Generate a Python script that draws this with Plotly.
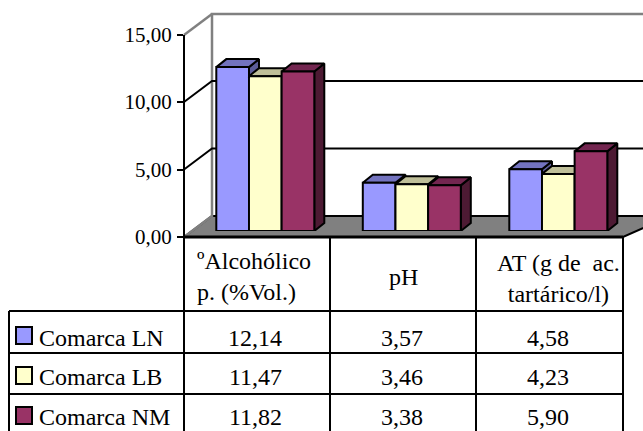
import plotly.graph_objects as go

categories = ["ºAlcohólico<br>p. (%Vol.)", "pH", "AT (g de  ac.<br>tartárico/l)"]
series_names = ["Comarca LN", "Comarca LB", "Comarca NM"]
comarca_ln = [12.14, 3.57, 4.58]
comarca_lb = [11.47, 3.46, 4.23]
comarca_nm = [11.82, 3.38, 5.90]
value_labels = [["12,14", "3,57", "4,58"], ["11,47", "3,46", "4,23"], ["11,82", "3,38", "5,90"]]
tick_vals = [0, 5, 10, 15]
tick_text = ["0,00", "5,00", "10,00", "15,00"]

W, H = 643, 431
FRONT = ["#9999FF", "#FFFFCC", "#993366"]
TOP = ["#7373BF", "#BFBF99", "#732650"]
SIDE = ["#5C5C99", "#99997A", "#4D1A33"]
FONT = "Liberation Serif"
FS = 24
TICK_FS = 21
LW = 2
series = [comarca_ln, comarca_lb, comarca_nm]

PPU = 13.5        # px per value unit
CAT = 146.5       # px per category
X0 = 265.3        # px centre of first category
cx = lambda px: (px - X0) / CAT
wy = lambda px: (237 - px) / PPU   # walls axis value for a px row
xr = [cx(0), cx(W)]
BW = 98 / 3 / CAT
DX = 10 / CAT
DY = 8 / PPU

fig = go.Figure()


def poly(xs, ys, fill, yaxis, line="black", lw=LW):
    fig.add_trace(go.Scatter(x=xs, y=ys, yaxis=yaxis, mode="lines", fill="toself" if fill else None,
                             fillcolor=fill, line=dict(color=line, width=lw),
                             showlegend=False, hoverinfo="skip"))


# floor and walls
poly([cx(184), cx(212), cx(670), cx(623), cx(184)], [wy(237), wy(216), wy(216), wy(237), wy(237)], "#808080", "y")
poly([cx(184), cx(212), cx(212), cx(660)], [wy(237), wy(216), wy(14), wy(14)], None, "y", "#808080", 2.5)
poly([cx(184), cx(212)], [wy(35), wy(14)], None, "y", "#808080", 2.5)
for v in (5, 10):
    poly([cx(184), cx(212), cx(660)], [v, wy(216 - PPU * v), wy(216 - PPU * v)], None, "y")

# tick axis carrier
fig.add_trace(go.Scatter(x=[0], y=[0], yaxis="y2", mode="none", showlegend=False, hoverinfo="skip"))

# depth faces
for g in range(3):
    for s, vals in enumerate(series):
        v = vals[g]
        l = g + (s - 1.5) * BW
        r = l + BW
        poly([r, r + DX, r + DX, r, r], [0, DY, v + DY, v, 0], SIDE[s], "y3")
        poly([l, l + DX, r + DX, r, l], [v, v + DY, v + DY, v, v], TOP[s], "y3")

# front faces
for s, vals in enumerate(series):
    fig.add_trace(go.Bar(x=[0, 1, 2], y=vals, name=series_names[s], yaxis="y4",
                         marker=dict(color=FRONT[s], line=dict(color="black", width=LW)),
                         showlegend=False, hoverinfo="skip"))

shapes = []
ann = []


def hline(y, x0, x1, w=LW):
    shapes.append(dict(type="line", xref="paper", yref="paper", x0=x0 / W, x1=x1 / W, y0=1 - y / H, y1=1 - y / H,
                       line=dict(color="black", width=w)))


def vline(x, y0, y1):
    shapes.append(dict(type="line", xref="paper", yref="paper", x0=x / W, x1=x / W, y0=1 - y0 / H, y1=1 - y1 / H,
                       line=dict(color="black", width=LW)))


def text(x, y, t, anchor="center", align="center"):
    ann.append(dict(xref="paper", yref="paper", x=x / W, y=1 - y / H, text=t, showarrow=False, xanchor=anchor,
                    yanchor="middle", font=dict(family=FONT, size=FS, color="black"), align=align, borderpad=0))


hline(237, 184, 623, 3)
for y in (311, 353, 394):
    hline(y, 9, 623)
vline(9, 311, H)
for x in (184, 330, 476, 623):
    vline(x, 237, H)

col_centers = [255, 402, 548]
row_centers = [338, 377, 417]
swatch_tops = [327, 367, 407]
text(196, 276, categories[0], "left", "left")
text(403, 277, categories[1])
text(558, 278, categories[2])
for s, r in enumerate(row_centers):
    shapes.append(dict(type="rect", xref="paper", yref="paper", x0=16 / W, x1=32 / W,
                       y0=1 - (swatch_tops[s] + 17) / H, y1=1 - swatch_tops[s] / H,
                       fillcolor=FRONT[s], line=dict(color="black", width=LW)))
    text(38, r, series_names[s], "left")
    for c, lab in zip(col_centers, value_labels[s]):
        text(c, r, lab)

hidden = dict(visible=False, fixedrange=True)
fig.update_layout(
    width=W, height=H, margin=dict(l=0, r=0, t=0, b=0, autoexpand=False), paper_bgcolor="white", plot_bgcolor="rgba(0,0,0,0)",
    barmode="group", bargap=1 - 98 / CAT, bargroupgap=0, showlegend=False,
    xaxis=dict(range=xr, domain=[0, 1], **hidden),
    yaxis=dict(range=[wy(H), wy(0)], domain=[0, 1], **hidden),
    yaxis2=dict(range=[0, 15], domain=[1 - 237 / H, 1 - (237 - 15 * PPU) / H], anchor="free", position=184 / W,
                tickvals=tick_vals, ticktext=tick_text, ticks="outside", ticklen=6, tickwidth=LW, tickcolor="black",
                showline=True, linecolor="black", linewidth=LW, showgrid=False, zeroline=False, ticklabelstandoff=1,
                tickfont=dict(family=FONT, size=TICK_FS, color="black"), fixedrange=True),
    yaxis3=dict(range=[0, 15], domain=[1 - 231 / H, 1 - (231 - 15 * PPU) / H], **hidden),
    yaxis4=dict(range=[0, 15], overlaying="y3", **hidden),
    shapes=shapes, annotations=ann,
)
fig.write_html("out.html", config={"displayModeBar": False},
               post_script="document.body.style.margin='0';document.documentElement.style.overflow='hidden';")
